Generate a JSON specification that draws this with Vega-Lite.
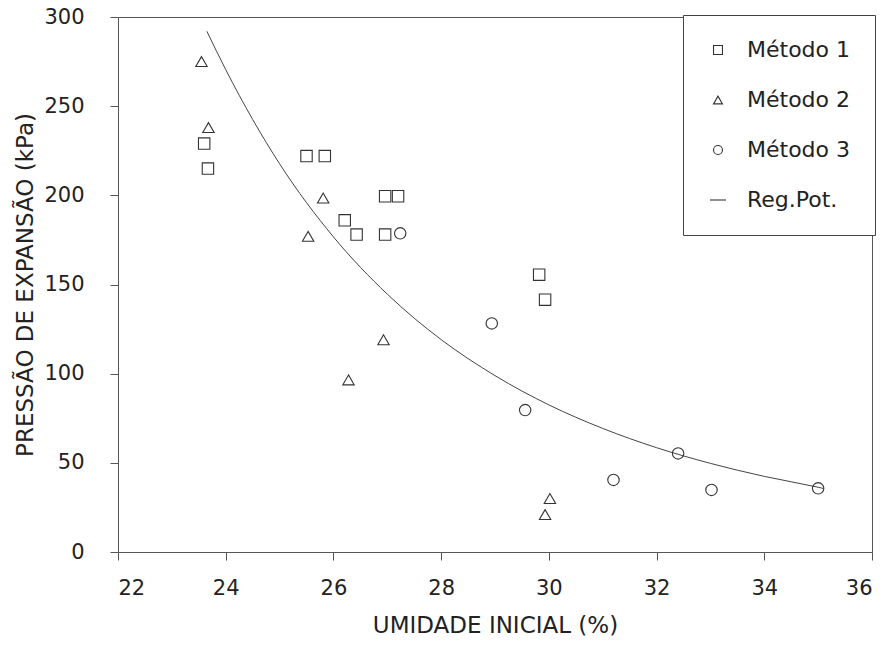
{
  "$schema": "https://vega.github.io/schema/vega-lite/v6.json",
  "autosize": {"type": "none"},
  "padding": {"left": 118, "top": 17, "right": 17, "bottom": 100},
  "width": 754,
  "height": 535,
  "background": "white",
  "config": {
    "view": {"stroke": "#555", "strokeWidth": 1},
    "font": "DejaVu Sans",
    "axis": {
      "domain": false,
      "grid": false,
      "ticks": true,
      "tickColor": "#555",
      "tickSize": 8,
      "labelFont": "DejaVu Sans",
      "labelFontSize": 21,
      "labelColor": "#222",
      "titleFont": "DejaVu Sans",
      "titleFontSize": 23,
      "titleFontWeight": "normal",
      "titleColor": "#222"
    }
  },
  "datasets": {
    "pts": [
      {"metodo": "Método 1", "umidade": 23.6, "pressao": 229},
      {"metodo": "Método 1", "umidade": 23.67, "pressao": 215},
      {"metodo": "Método 1", "umidade": 25.5, "pressao": 222},
      {"metodo": "Método 1", "umidade": 25.84, "pressao": 222},
      {"metodo": "Método 1", "umidade": 26.21, "pressao": 186},
      {"metodo": "Método 1", "umidade": 26.43, "pressao": 178},
      {"metodo": "Método 1", "umidade": 26.96, "pressao": 199.5},
      {"metodo": "Método 1", "umidade": 27.2, "pressao": 199.5},
      {"metodo": "Método 1", "umidade": 26.96, "pressao": 178},
      {"metodo": "Método 1", "umidade": 29.82, "pressao": 155.5},
      {"metodo": "Método 1", "umidade": 29.93, "pressao": 141.5},
      {"metodo": "Método 2", "umidade": 23.55, "pressao": 275},
      {"metodo": "Método 2", "umidade": 23.68, "pressao": 238},
      {"metodo": "Método 2", "umidade": 25.81, "pressao": 198.5},
      {"metodo": "Método 2", "umidade": 25.53, "pressao": 177},
      {"metodo": "Método 2", "umidade": 26.93, "pressao": 119},
      {"metodo": "Método 2", "umidade": 26.28, "pressao": 96.5},
      {"metodo": "Método 2", "umidade": 30.02, "pressao": 30},
      {"metodo": "Método 2", "umidade": 29.93, "pressao": 21},
      {"metodo": "Método 3", "umidade": 27.24, "pressao": 178.7},
      {"metodo": "Método 3", "umidade": 28.94, "pressao": 128.2},
      {"metodo": "Método 3", "umidade": 29.56, "pressao": 79.6},
      {"metodo": "Método 3", "umidade": 31.2, "pressao": 40.4},
      {"metodo": "Método 3", "umidade": 32.4, "pressao": 55.3},
      {"metodo": "Método 3", "umidade": 33.02, "pressao": 34.8},
      {"metodo": "Método 3", "umidade": 35.0, "pressao": 35.7}
    ],
    "curve": [
      {"umidade": 23.65, "pressao": 292},
      {"umidade": 24, "pressao": 270.5},
      {"umidade": 25, "pressao": 217.7},
      {"umidade": 26, "pressao": 176.7},
      {"umidade": 27, "pressao": 144.6},
      {"umidade": 28, "pressao": 119.1},
      {"umidade": 29, "pressao": 98.9},
      {"umidade": 30, "pressao": 82.5},
      {"umidade": 31, "pressao": 69.3},
      {"umidade": 32, "pressao": 58.5},
      {"umidade": 33, "pressao": 49.7},
      {"umidade": 34, "pressao": 42.4},
      {"umidade": 35, "pressao": 36.3},
      {"umidade": 35.1, "pressao": 35.6}
    ]
  },
  "layer": [
    {
      "data": {"name": "curve"},
      "mark": {"type": "line", "stroke": "#444", "strokeWidth": 1, "interpolate": "monotone"},
      "encoding": {
        "x": {"field": "umidade", "type": "quantitative"},
        "y": {"field": "pressao", "type": "quantitative"}
      }
    },
    {
      "data": {"name": "pts"},
      "mark": {"type": "point", "filled": false, "stroke": "#333", "strokeWidth": 1.1, "size": 130, "opacity": 1},
      "encoding": {
        "x": {
          "field": "umidade", "type": "quantitative",
          "scale": {"domain": [22, 36], "nice": false, "zero": false},
          "axis": {"values": [22, 24, 26, 28, 30, 32, 34, 36], "title": "UMIDADE INICIAL (%)", "labelPadding": 17, "titlePadding": 16}
        },
        "y": {
          "field": "pressao", "type": "quantitative",
          "scale": {"domain": [0, 300], "nice": false},
          "axis": {"values": [0, 50, 100, 150, 200, 250, 300], "title": "PRESSÃO DE EXPANSÃO (kPa)", "labelPadding": 26, "titlePadding": 6}
        },
        "shape": {
          "field": "metodo", "type": "nominal",
          "scale": {"domain": ["Método 1", "Método 2", "Método 3", "Reg.Pot."], "range": ["square", "triangle-up", "circle", "M-1.8,0H1.8"]},
          "legend": {
            "title": null,
            "orient": "none",
            "legendX": 565,
            "legendY": -2,
            "padding": 24,
            "rowPadding": 28,
            "strokeColor": "#444",
            "fillColor": "white",
            "labelFont": "DejaVu Sans",
            "labelFontSize": 22,
            "labelColor": "#222",
            "labelOffset": 18,
            "symbolSize": 80,
            "symbolStrokeColor": "#333",
            "symbolFillColor": "transparent",
            "symbolStrokeWidth": 1.1
          }
        }
      }
    }
  ]
}
